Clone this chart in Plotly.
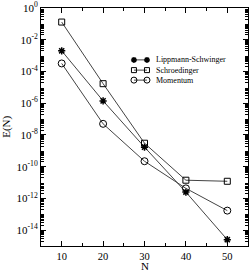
import plotly.graph_objects as go

N = [10, 20, 30, 40, 50]
lippmann = [2.0e-3, 1.4e-6, 1.7e-9, 2.5e-12, 2.5e-15]
schroedinger = [1.3e-1, 1.7e-5, 3.0e-9, 1.4e-11, 1.2e-11]
momentum = [3.2e-4, 5.0e-8, 2.2e-10, 4.3e-12, 1.7e-13]
series_names = ["Lippmann-Schwinger", "Schroedinger", "Momentum"]

y_ticks = [1e0, 1e-2, 1e-4, 1e-6, 1e-8, 1e-10, 1e-12, 1e-14]
y_ticktext = ["10<sup>0</sup>", "10<sup>-2</sup>", "10<sup>-4</sup>", "10<sup>-6</sup>",
              "10<sup>-8</sup>", "10<sup>-10</sup>", "10<sup>-12</sup>", "10<sup>-14</sup>"]
x_ticks = [10, 20, 30, 40, 50]
x_minor = [15, 25, 35, 45]

minor_y = [m * 10.0 ** e for e in range(-15, 0) for m in range(2, 10)]

font = "Liberation Serif"
lc = "#444444"

styles = [
    dict(symbol="asterisk-open", size=6, line=dict(color="black", width=1.5)),
    dict(symbol="square-open", size=6, line=dict(color="black", width=1)),
    dict(symbol="circle-open", size=7, line=dict(color="black", width=1)),
]

fig = go.Figure()
for name, vals, st in zip(series_names, [lippmann, schroedinger, momentum], styles):
    fig.add_trace(go.Scatter(x=N, y=vals, name=name, mode="lines+markers",
                             line=dict(color=lc, width=1),
                             marker=dict(color="black", **st), showlegend=False))

# custom compact legend (in an overlay axis spanning the plot area, 0..1)
leg_x0, leg_x1, leg_tx = 0.449, 0.512, 0.546
leg_y = [0.782, 0.739, 0.697]
annotations = []
for name, st, yy in zip(series_names, styles, leg_y):
    small = dict(st)
    small["size"] = st["size"] - 1
    fig.add_trace(go.Scatter(x=[leg_x0, leg_x1], y=[yy, yy], mode="lines+markers",
                             xaxis="x2", yaxis="y2", showlegend=False, hoverinfo="skip",
                             line=dict(color=lc, width=1),
                             marker=dict(color="black", **small)))
    annotations.append(dict(text=name, xref="x2", yref="y2", x=leg_tx, y=yy,
                            showarrow=False, xanchor="left", yanchor="middle",
                            font=dict(family=font, size=8, color="black")))

annotations += [
    dict(text="E(N)", xref="paper", yref="paper", x=-0.17, y=0.5, showarrow=False,
         textangle=-90, font=dict(family=font, size=11, color="black"),
         xanchor="center", yanchor="middle"),
    dict(text="N", xref="paper", yref="paper", x=0.5, y=-0.082, showarrow=False,
         font=dict(family=font, size=11, color="black"), xanchor="center", yanchor="middle"),
]

fig.update_layout(
    width=250, height=271,
    margin=dict(l=41, r=2, t=8, b=25, autoexpand=False),
    paper_bgcolor="white", plot_bgcolor="white",
    font=dict(family=font, size=11, color="black"),
    showlegend=False,
    xaxis=dict(range=[5, 55], tickvals=x_ticks, ticks="inside", ticklen=5,
               tickcolor="black", showline=True, linecolor="black", linewidth=1,
               mirror="ticks", showgrid=False, zeroline=False, automargin=False,
               tickfont=dict(family=font, size=10.5), ticklabelstandoff=0,
               minor=dict(tickvals=x_minor, ticks="inside", ticklen=3, tickcolor="black")),
    yaxis=dict(type="log", range=[-15, 0], tickvals=y_ticks, ticktext=y_ticktext,
               ticks="inside", ticklen=5, tickcolor="black", showline=True,
               linecolor="black", linewidth=1, mirror="ticks", showgrid=False,
               zeroline=False, automargin=False, tickfont=dict(family=font, size=11),
               minor=dict(tickvals=minor_y, ticks="inside", ticklen=3, tickcolor="black")),
    xaxis2=dict(overlaying="x", range=[0, 1], visible=False, fixedrange=True),
    yaxis2=dict(overlaying="y", range=[0, 1], visible=False, fixedrange=True),
    annotations=annotations,
)

fig.write_html("out.html", config={"displayModeBar": False},
               post_script="document.body.style.margin='0';")
